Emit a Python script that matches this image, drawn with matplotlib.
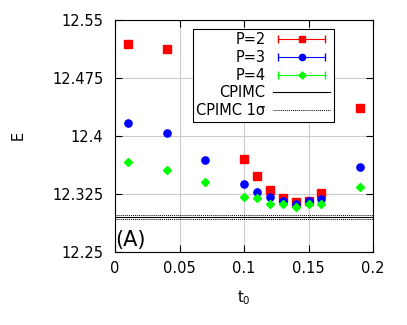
import numpy as np
import matplotlib
matplotlib.use('Agg')
import matplotlib.pyplot as plt
from matplotlib.container import ErrorbarContainer
from matplotlib.legend_handler import HandlerErrorbar

# imaginary time step values
t_p2 = [0.01, 0.04, 0.10, 0.11, 0.12, 0.13, 0.14, 0.15, 0.16, 0.19]
e_p2 = [12.519, 12.512, 12.3695, 12.348, 12.330, 12.319, 12.314, 12.315, 12.326, 12.436]
err_p2 = [0.001, 0.001, 0.0015, 0.0015, 0.0015, 0.0015, 0.0015, 0.0015, 0.0015, 0.001]

t_p3 = [0.01, 0.04, 0.07, 0.10, 0.11, 0.12, 0.13, 0.14, 0.15, 0.16, 0.19]
e_p3 = [12.417, 12.404, 12.369, 12.3375, 12.3275, 12.320, 12.316, 12.312, 12.316, 12.318, 12.360]
err_p3 = [0.001] * len(t_p3)

t_p4 = [0.01, 0.04, 0.07, 0.10, 0.11, 0.12, 0.13, 0.14, 0.15, 0.16, 0.19]
e_p4 = [12.3656, 12.356, 12.340, 12.320, 12.319, 12.311, 12.312, 12.308, 12.311, 12.311, 12.334]
err_p4 = [0.001] * len(t_p4)

cpimc = 12.2943
cpimc_sigma = 0.0027

series = [('P=2', t_p2, e_p2, err_p2, 's', '#ff0000', 5.2),
          ('P=3', t_p3, e_p3, err_p3, 'o', '#0000ff', 5.2),
          ('P=4', t_p4, e_p4, err_p4, 'D', '#00ff00', 4.3)]

fs = 10.5
plt.rcParams['font.family'] = 'DejaVu Sans'
fig = plt.figure(figsize=(4.07, 3.25), dpi=100)
ax = fig.add_axes([115 / 407, 1 - 251.5 / 325, 258 / 407, 231.5 / 325])

handles = []
labels = []
for name, t, e, err, mk, col, ms in series:
    ax.errorbar(t, e, yerr=err, fmt=mk, color=col, ms=ms,
                capsize=2, elinewidth=0.8)
    # legend handle: horizontal bar with caps, gnuplot style
    h = ax.errorbar([np.nan], [np.nan], xerr=[1], fmt=mk, color=col, ms=ms - 0.7,
                    capsize=3, elinewidth=0.8)
    handles.append(h)
    labels.append(name)

l1 = ax.axhline(cpimc, color='black', lw=0.8)
l2 = ax.axhline(cpimc + cpimc_sigma, color='black', lw=0.7, ls=(0, (1, 1)))
ax.axhline(cpimc - cpimc_sigma, color='black', lw=0.7, ls=(0, (1, 1)))
handles += [l1, l2]
labels += ['CPIMC', 'CPIMC 1σ']

ax.set_xlim(0, 0.2)
ax.set_ylim(12.25, 12.55)
ax.set_xticks([0, 0.05, 0.1, 0.15, 0.2])
ax.set_xticklabels(['0', '0.05', '0.1', '0.15', '0.2'])
ax.set_yticks([12.25, 12.325, 12.4, 12.475, 12.55])
ax.set_yticklabels(['12.25', '12.325', '12.4', '12.475', '12.55'])
ax.tick_params(direction='in', top=True, right=True, length=5, labelsize=fs)
ax.tick_params(axis='y', pad=8.5)
ax.tick_params(axis='x', pad=7)
ax.grid(True, color='#cccccc', lw=0.8)
ax.set_axisbelow(True)

ax.set_xlabel('t$_0$', fontsize=fs)
ax.set_ylabel('E', fontsize=fs)
ax.xaxis.set_label_coords(0.5, -0.16)
ax.yaxis.set_label_coords(-0.345, 0.5)

ax.text(0.0, 12.2567, '(A)', fontsize=15)

leg = ax.legend(handles, labels, loc='upper left', bbox_to_anchor=(0.301, 0.962),
                borderaxespad=0, fontsize=fs, markerfirst=False, handlelength=3.94,
                borderpad=0.25, labelspacing=0.18, handletextpad=0.52, fancybox=False,
                edgecolor='black', framealpha=1,
                handler_map={ErrorbarContainer: HandlerErrorbar(xerr_size=1.6, numpoints=1)})
leg.get_frame().set_linewidth(0.8)
for t in leg.get_texts():
    t.set_ha('right')

fig.savefig('out.png', dpi=100)
